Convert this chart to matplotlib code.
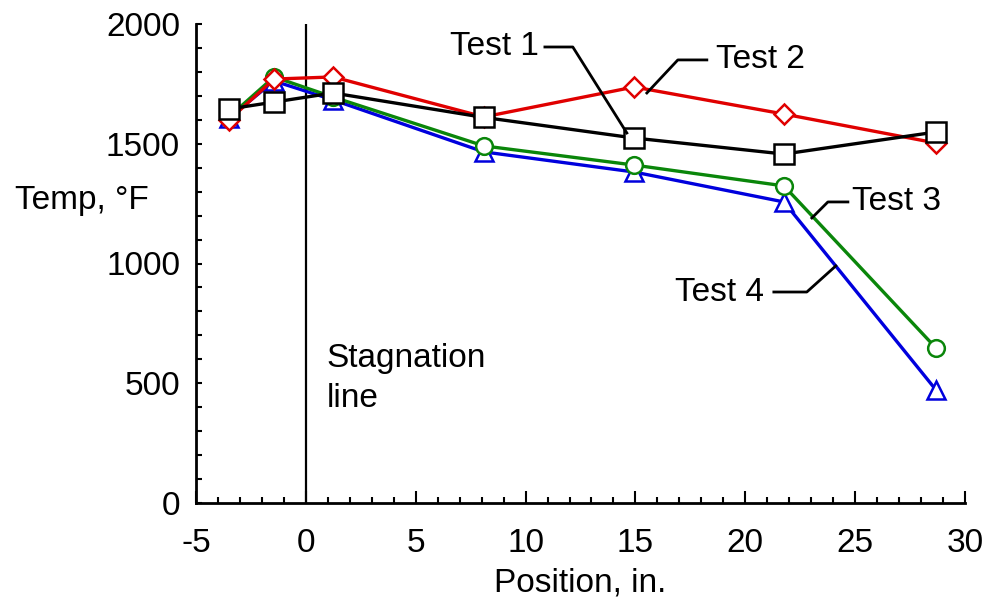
import matplotlib
matplotlib.use("Agg")
import matplotlib.pyplot as plt
from matplotlib.ticker import MultipleLocator

plt.rcParams['font.family'] = ['Liberation Sans', 'DejaVu Sans']

positions = [-3.5, -1.45, 1.24, 8.1, 14.94, 21.76, 28.68]
test1 = [1645, 1674, 1712, 1610, 1524, 1457, 1549]
test2 = [1599, 1770, 1779, 1612, 1737, 1624, 1503]
test3 = [1612, 1779, 1695, 1491, 1411, 1324, 647]
test4 = [1607, 1762, 1683, 1466, 1382, 1257, 472]
x_ticks = [-5, 0, 5, 10, 15, 20, 25, 30]
y_ticks = [0, 500, 1000, 1500, 2000]

fig = plt.figure(figsize=(9.85, 6.03), dpi=100)
ax = fig.add_axes([196/985, 1-503/603, (965-196)/985, (503-24)/603])

lw = 2.4
ms = 13.5
mew = 1.8
ax.plot(positions, test4, color='#0000dd', lw=lw, marker='^', ms=ms, mfc='white', mec='#0000dd', mew=mew, zorder=3)
ax.plot(positions, test3, color='#0a860a', lw=lw, marker='o', ms=ms-1.5, mfc='white', mec='#0a860a', mew=mew, zorder=4)
ax.plot(positions, test2, color='#e00000', lw=lw, marker='D', ms=ms-3.5, mfc='white', mec='#e00000', mew=mew, zorder=5)
ax.plot(positions, test1, color='black', lw=lw, marker='s', ms=ms+0.5, mfc='white', mec='black', mew=mew, zorder=6)

ax.plot([0, 0], [0, 2000], color='black', lw=1.6, zorder=2)

ax.set_xlim(-5, 30)
ax.set_ylim(0, 2000)
ax.set_xticks(x_ticks)
ax.set_xticklabels([str(v) for v in x_ticks])
ax.set_yticks(y_ticks)
ax.set_yticklabels([str(v) for v in y_ticks])
ax.xaxis.set_minor_locator(MultipleLocator(1))
ax.yaxis.set_minor_locator(MultipleLocator(100))
fs = 24
ax.tick_params(axis='x', which='major', direction='in', length=9, width=1.5, labelsize=fs, pad=18)
ax.tick_params(axis='x', which='minor', direction='in', length=4, width=1.5)
ax.tick_params(axis='y', which='major', direction='in', length=4, width=1.5, labelsize=fs, pad=11.5)
ax.tick_params(axis='y', which='minor', direction='in', length=4, width=1.5)
for s in ['top', 'right']:
    ax.spines[s].set_visible(False)
for s in ['left', 'bottom']:
    ax.spines[s].set_linewidth(2)

ax.set_xlabel('Position, in.', fontsize=fs, labelpad=6)
fig.text(15/985, 1-200/603, 'Temp, °F', fontsize=fs, ha='left', va='center')

ax.text(0.96, 670, 'Stagnation\nline', fontsize=fs, ha='left', va='top', linespacing=1.4)

# leader lines
ax.plot([10.88, 12.15, 14.61], [1904, 1904, 1545], color='black', lw=2, zorder=7)
ax.text(10.6, 1904, 'Test 1', fontsize=fs, ha='right', va='center')
ax.plot([18.25, 16.93, 15.52], [1850, 1850, 1712], color='black', lw=2, zorder=7)
ax.text(18.65, 1850, 'Test 2', fontsize=fs, ha='left', va='center')
ax.plot([24.67, 23.76, 23.03], [1257, 1257, 1190], color='black', lw=2, zorder=7)
ax.text(24.85, 1257, 'Test 3', fontsize=fs, ha='left', va='center')
ax.plot([21.30, 22.80, 24.12], [881, 881, 990], color='black', lw=2, zorder=7)
ax.text(20.85, 881, 'Test 4', fontsize=fs, ha='right', va='center')

fig.savefig('out.png', dpi=100)
